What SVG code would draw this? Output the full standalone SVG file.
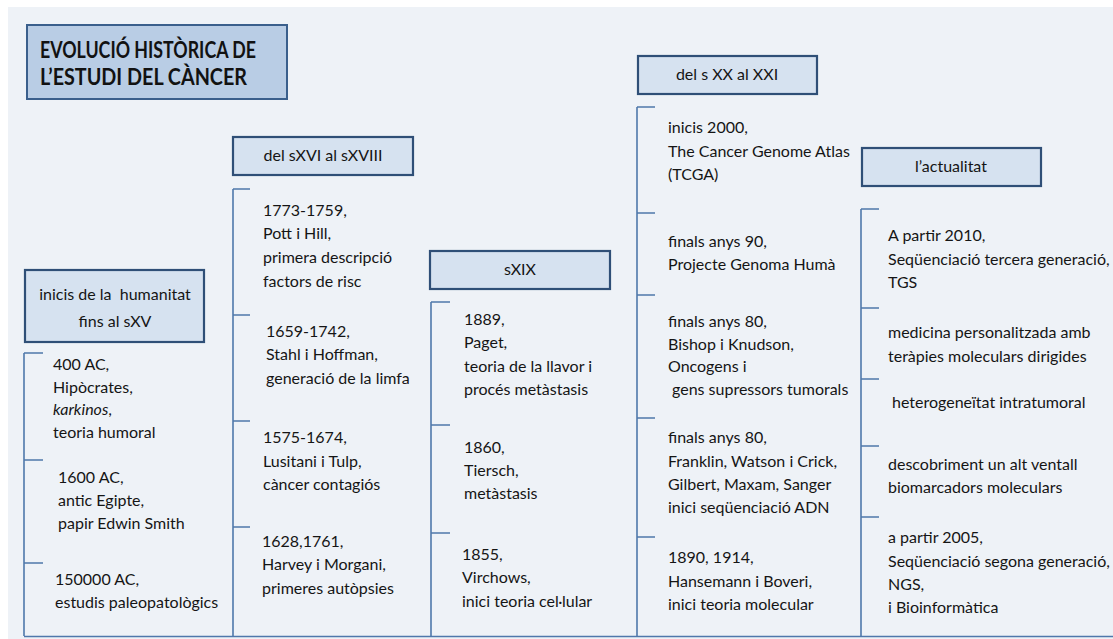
<svg xmlns="http://www.w3.org/2000/svg" width="1113" height="639" viewBox="0 0 1113 639">
<style>
.bg{fill:#eef2f7}
.title{fill:#b9cde5;stroke:#3a5f8c;stroke-width:2}
.hdr{fill:#d6e2f0;stroke:#2f4f77;stroke-width:2.2}
.ln{stroke:#4f78ab;stroke-width:1.6;fill:none}
text{font-family:Lato,"Liberation Sans",sans-serif;font-size:16px;fill:#151515}
.tt{font-weight:bold;font-size:22px;fill:#121212}
.hc{text-anchor:middle;white-space:pre}
</style>
<rect class="bg" x="8" y="7" width="1105" height="632"/>
<g id="connectors">
<path class="ln" d="M24 353V636M24 353H43M24 460H43M24 563H43"/>
<path class="ln" d="M233 189V636M233 189H250M233 315H250M233 421H250M233 527H250"/>
<path class="ln" d="M431 302V636M431 302H450M431 425H450M431 533H450"/>
<path class="ln" d="M637 107V636M637 107H655M637 213H655M637 295H655M637 418H655M637 537H655"/>
<path class="ln" d="M861 209V636M861 209H879M861 308H879M861 379H879M861 446H879M861 517H879"/>
<path class="ln" d="M24 636.5H1113"/>
</g>
<g id="title">
<rect class="title" x="27" y="25" width="260" height="74"/>
<text class="tt" x="40" y="58" textLength="216" lengthAdjust="spacingAndGlyphs">EVOLUCIÓ HISTÒRICA DE</text>
<text class="tt" x="40" y="85" textLength="207" lengthAdjust="spacingAndGlyphs">L’ESTUDI DEL CÀNCER</text>
</g>
<g id="h1">
<rect class="hdr" x="25" y="270" width="179" height="72"/>
<text class="hc" x="115" y="300">inicis de la  humanitat</text>
<text class="hc" x="115" y="327">fins al sXV</text>
</g>
<g id="h2">
<rect class="hdr" x="233" y="137" width="180" height="38"/>
<text class="hc" x="323" y="161">del sXVI al sXVIII</text>
</g>
<g id="h3">
<rect class="hdr" x="430" y="251" width="180" height="38"/>
<text class="hc" x="520" y="275">sXIX</text>
</g>
<g id="h4">
<rect class="hdr" x="638" y="56" width="179" height="38"/>
<text class="hc" x="727" y="80">del s XX al XXI</text>
</g>
<g id="h5">
<rect class="hdr" x="862" y="148" width="179" height="38"/>
<text class="hc" x="951" y="172">l’actualitat</text>
</g>
<g id="c1a"><text x="53" y="370">400 AC,</text><text x="53" y="393">Hipòcrates,</text><text x="53" y="415"><tspan font-style="italic">karkinos</tspan>,</text><text x="53" y="438">teoria humoral</text></g>
<g id="c1b"><text x="58" y="483">1600 AC,</text><text x="58" y="506">antic Egipte,</text><text x="58" y="529">papir Edwin Smith</text></g>
<g id="c1c"><text x="55" y="585">150000 AC,</text><text x="55" y="608">estudis paleopatològics</text></g>
<g id="c2a"><text x="263" y="216">1773-1759,</text><text x="263" y="239">Pott i Hill,</text><text x="263" y="263">primera descripció</text><text x="263" y="287">factors de risc</text></g>
<g id="c2b"><text x="266" y="337">1659-1742,</text><text x="266" y="360">Stahl i Hoffman,</text><text x="266" y="384">generació de la limfa</text></g>
<g id="c2c"><text x="263" y="443">1575-1674,</text><text x="263" y="467">Lusitani i Tulp,</text><text x="263" y="490">càncer contagiós</text></g>
<g id="c2d"><text x="262" y="547">1628,1761,</text><text x="262" y="570">Harvey i Morgani,</text><text x="262" y="594">primeres autòpsies</text></g>
<g id="c3a"><text x="464" y="325">1889,</text><text x="464" y="348">Paget,</text><text x="464" y="372">teoria de la llavor i</text><text x="464" y="395">procés metàstasis</text></g>
<g id="c3b"><text x="464" y="453">1860,</text><text x="464" y="476">Tiersch,</text><text x="464" y="499">metàstasis</text></g>
<g id="c3c"><text x="462" y="560">1855,</text><text x="462" y="583">Virchows,</text><text x="462" y="607">inici teoria cel·lular</text></g>
<g id="c4a"><text x="668" y="133">inicis 2000,</text><text x="668" y="157">The Cancer Genome Atlas</text><text x="668" y="180">(TCGA)</text></g>
<g id="c4b"><text x="668" y="247">finals anys 90,</text><text x="668" y="270">Projecte Genoma Humà</text></g>
<g id="c4c"><text x="668" y="327">finals anys 80,</text><text x="668" y="350">Bishop i Knudson,</text><text x="668" y="372">Oncogens i</text><text x="672" y="395">gens supressors tumorals</text></g>
<g id="c4d"><text x="668" y="443">finals anys 80,</text><text x="668" y="467">Franklin, Watson i Crick,</text><text x="668" y="490">Gilbert, Maxam, Sanger</text><text x="668" y="513">inici seqüenciació ADN</text></g>
<g id="c4e"><text x="668" y="563">1890, 1914,</text><text x="668" y="587">Hansemann i Boveri,</text><text x="668" y="610">inici teoria molecular</text></g>
<g id="c5a"><text x="888" y="241">A partir 2010,</text><text x="888" y="265">Seqüenciació tercera generació,</text><text x="888" y="288">TGS</text></g>
<g id="c5b"><text x="888" y="338">medicina personalitzada amb</text><text x="888" y="362">teràpies moleculars dirigides</text></g>
<g id="c5c"><text x="892" y="408">heterogeneïtat intratumoral</text></g>
<g id="c5d"><text x="888" y="470">descobriment un alt ventall</text><text x="888" y="493">biomarcadors moleculars</text></g>
<g id="c5e"><text x="888" y="543">a partir 2005,</text><text x="888" y="567">Seqüenciació segona generació,</text><text x="888" y="590">NGS,</text><text x="888" y="613">i Bioinformàtica</text></g>
</svg>
